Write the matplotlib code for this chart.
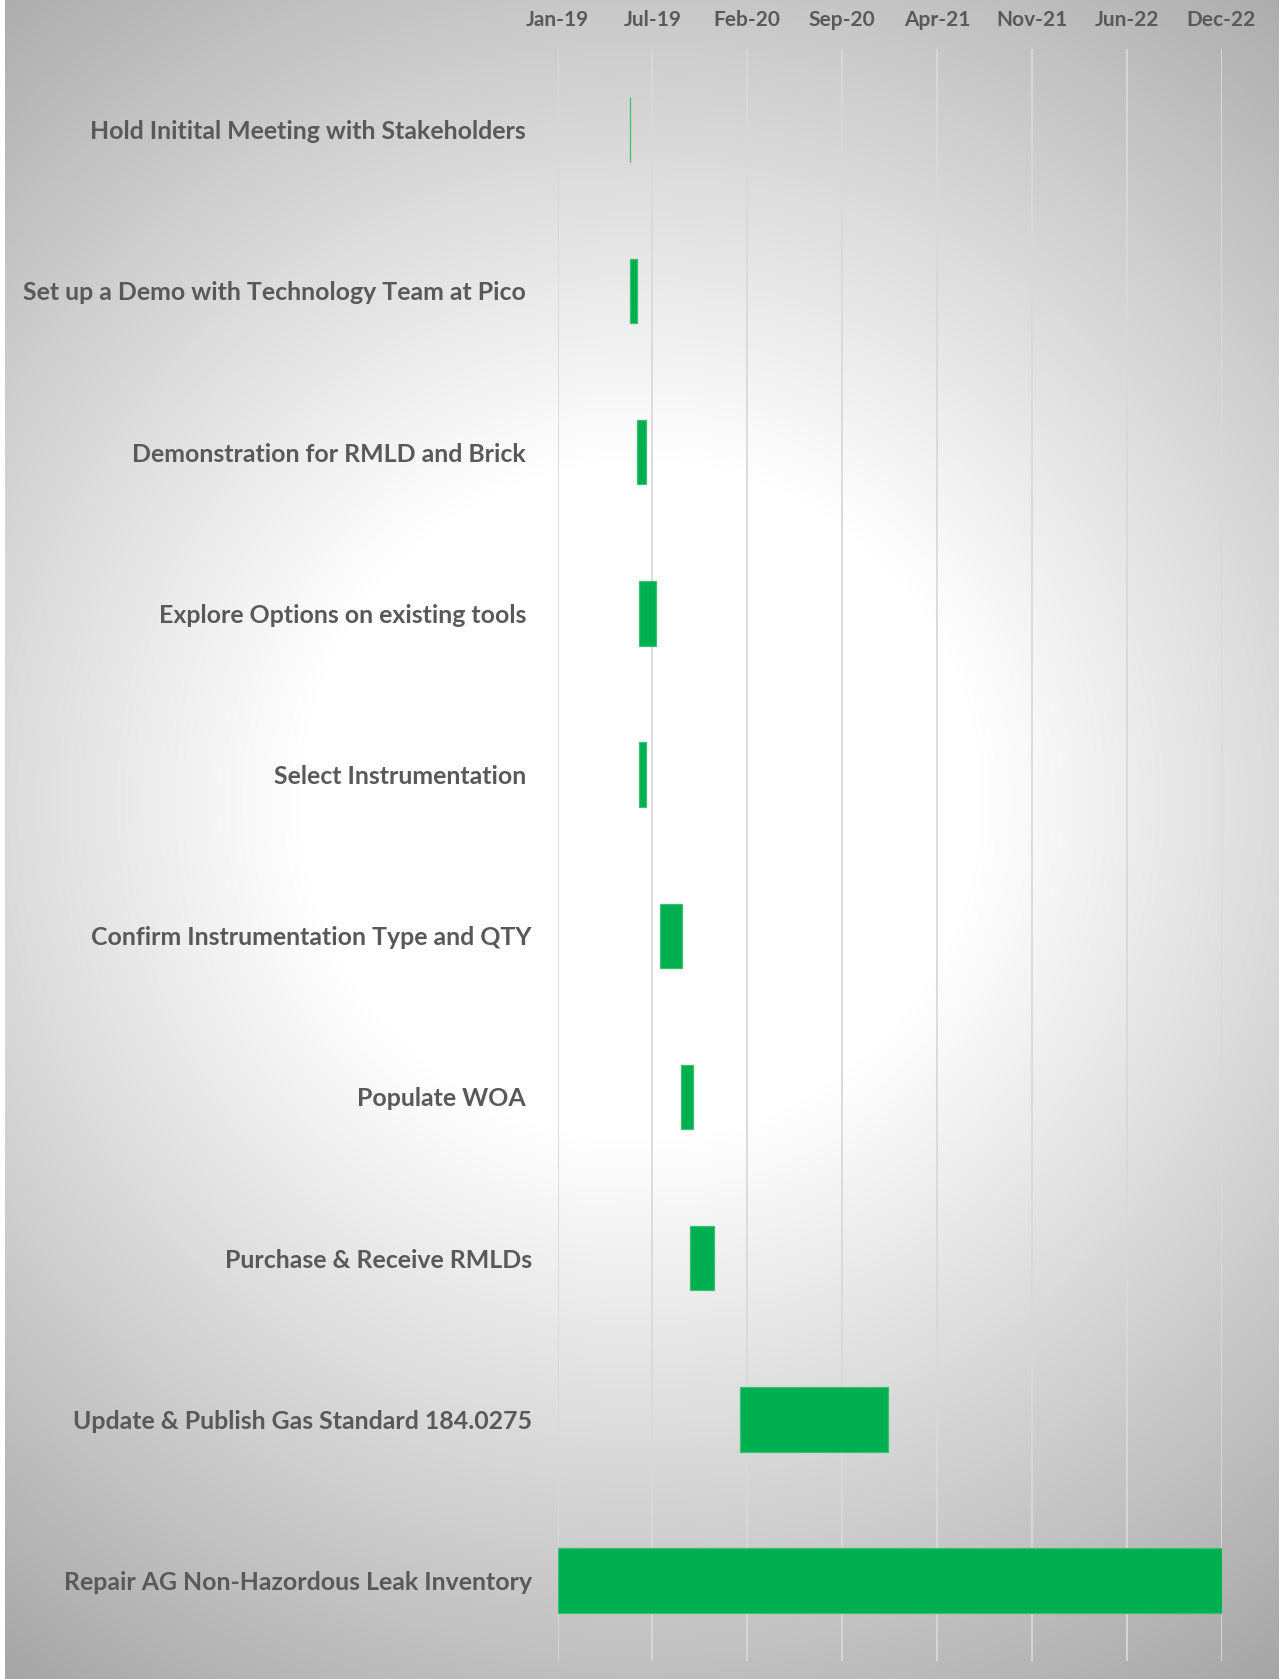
import datetime as dt
import numpy as np
import matplotlib
matplotlib.use("Agg")
import matplotlib.pyplot as plt
import matplotlib.dates as mdates

# Project tasks, start dates and durations (days)
tasks = [
    "Hold Initital Meeting with Stakeholders ",
    "Set up a Demo with Technology Team at Pico ",
    "Demonstration for RMLD and Brick ",
    "Explore Options on existing tools ",
    "Select Instrumentation ",
    "Confirm Instrumentation Type and QTY",
    "Populate WOA ",
    "Purchase & Receive RMLDs",
    "Update & Publish Gas Standard 184.0275",
    "Repair AG Non-Hazordous Leak Inventory",
]
start_dates = [
    "2019-06-09", "2019-06-09", "2019-06-24", "2019-06-29", "2019-06-29",
    "2019-08-14", "2019-09-29", "2019-10-18", "2020-02-05", "2019-01-01",
]
durations = [1, 15, 19, 36, 14, 47, 26, 54, 325, 1456]

tick_labels = ["Jan-19", "Jul-19", "Feb-20", "Sep-20", "Apr-21", "Nov-21", "Jun-22", "Dec-22"]
axis_start = "2019-01-01"
tick_step_days = 208

W, H, DPI = 1284, 1679, 100
fig = plt.figure(figsize=(W / DPI, H / DPI), dpi=DPI, facecolor="white")

# Radial grey-to-white backdrop
bg = fig.add_axes([5 / W, 0, (W - 10) / W, 1])
bg.set_axis_off()
yy, xx = np.mgrid[0:H, 5:W - 5]
d = np.hypot(xx - 640, yy - 800)
val = np.clip(255 - 0.12 * np.clip(d - 340, 0, None), 160, 255) / 255.0
rgb = np.dstack([val, val, val])
bg.imshow(rgb, aspect="auto", interpolation="bilinear", extent=(0, 1, 0, 1))
bg.set_xlim(0, 1)
bg.set_ylim(0, 1)

top_px, bot_px = 49, 1661.3
left_px, right_px = 557.5, 1221.5
ax = fig.add_axes([left_px / W, (H - bot_px) / H, (right_px - left_px) / W, (bot_px - top_px) / H])
ax.set_facecolor("none")

t0 = dt.datetime.strptime(axis_start, "%Y-%m-%d")
starts = [mdates.date2num(dt.datetime.strptime(s, "%Y-%m-%d")) for s in start_dates]
ypos = np.arange(len(tasks))

ax.barh(ypos, durations, left=starts, height=0.4, color="#00B050",
        edgecolor="#3cc070", linewidth=0.9, zorder=3)

ticks = [mdates.date2num(t0 + dt.timedelta(days=k * tick_step_days)) for k in range(len(tick_labels))]
ax.set_xlim(ticks[0], ticks[-1])
ax.set_ylim(len(tasks) - 0.5, -0.5)

ax.xaxis.tick_top()
ax.set_xticks(ticks)
ax.set_xticklabels(tick_labels)
ax.set_yticks(ypos)
ax.set_yticklabels(tasks)

family = ["Lato", "DejaVu Sans"]
for lab in ax.get_xticklabels():
    lab.set_fontfamily(family)
    lab.set_fontweight("bold")
    lab.set_fontsize(15)
    lab.set_color("#595959")
for lab in ax.get_yticklabels():
    lab.set_fontfamily(family)
    lab.set_fontweight("bold")
    lab.set_fontsize(17.9)
    lab.set_color("#595959")

ax.tick_params(axis="x", length=0, pad=14)
ax.tick_params(axis="y", length=0, pad=18.4)
ax.grid(axis="x", color="#d9d9d9", linewidth=1.3, zorder=0)
ax.set_axisbelow(True)
for s in ax.spines.values():
    s.set_visible(False)

fig.savefig("out.png", dpi=DPI, facecolor="white")
